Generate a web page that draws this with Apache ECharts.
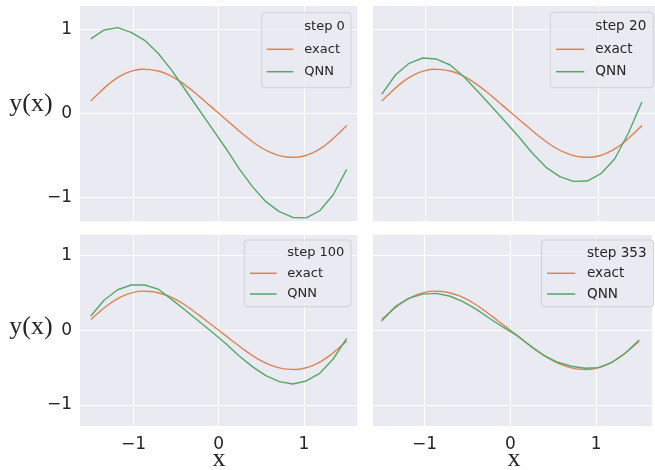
<!DOCTYPE html>
<html><head><meta charset="utf-8">
<script src="https://cdn.jsdelivr.net/npm/echarts@6/dist/echarts.min.js"></script>
<style>html,body{margin:0;padding:0;background:#fff}#c{width:655px;height:470px}</style>
</head><body><div id="c"></div>
<script>
// ---- data ----
const xExact = [-1.5,-1.4,-1.3,-1.2,-1.1,-1.0,-0.9,-0.8,-0.7,-0.6,-0.5,-0.4,-0.3,-0.2,-0.1,0,
  0.1,0.2,0.3,0.4,0.5,0.6,0.7,0.8,0.9,1.0,1.1,1.2,1.3,1.4,1.5];
const yExact = [0.145,0.245,0.338,0.415,0.472,0.508,0.524,0.520,0.500,0.463,0.410,0.342,0.262,0.176,0.088,0,
  -0.088,-0.176,-0.262,-0.342,-0.410,-0.463,-0.500,-0.520,-0.524,-0.508,-0.472,-0.415,-0.338,-0.245,-0.145];
const xQNN = [-1.5,-1.3421,-1.1842,-1.0263,-0.8684,-0.7105,-0.5526,-0.3947,-0.2368,-0.0789,
  0.0789,0.2368,0.3947,0.5526,0.7105,0.8684,1.0263,1.1842,1.3421,1.5];
const qnnStep0 = [0.885,0.992,1.02,0.964,0.869,0.714,0.514,0.283,0.051,-0.179,
  -0.41,-0.655,-0.873,-1.052,-1.17,-1.24,-1.245,-1.16,-0.97,-0.667];
const qnnStep20 = [0.226,0.456,0.595,0.658,0.646,0.575,0.436,0.263,0.083,-0.095,
  -0.28,-0.476,-0.643,-0.754,-0.81,-0.806,-0.719,-0.544,-0.238,0.138];
const qnnStep100 = [0.191,0.405,0.543,0.606,0.606,0.552,0.414,0.271,0.124,-0.023,
  -0.174,-0.34,-0.486,-0.607,-0.687,-0.718,-0.678,-0.575,-0.384,-0.107];
const qnnStep353 = [0.125,0.316,0.428,0.485,0.494,0.459,0.383,0.28,0.155,0.04,
  -0.072,-0.214,-0.34,-0.428,-0.481,-0.508,-0.5,-0.428,-0.303,-0.13];
const stepLabels = ['step 0','step 20','step 100','step 353'];
const seriesNames = ['exact','QNN'];
const tickLabels = {'-1':'\u22121','0':'0','1':'1'};
const xAxisName = 'x';
const yAxisName = 'y(x)';

// ---- layout / style ----
const ORANGE = '#dd8452', GREEN = '#55a868', BG = '#eaeaf2', TXT = '#262626';
const grids = [
  {left:79, top:5, width:278, height:216},
  {left:372, top:5, width:288, height:216},
  {left:79, top:234.3, width:278, height:192.4},
  {left:372, top:234.3, width:288, height:192.4}
];
const xRanges = [[-1.638,1.621],[-1.612,1.65],[-1.638,1.621],[-1.612,1.65]];
const yRanges = [[-1.282,1.289],[-1.282,1.289],[-1.29,1.285],[-1.29,1.285]];
const qnnAll = [qnnStep0, qnnStep20, qnnStep100, qnnStep353];

function fmt(v){
  const r = Math.round(v);
  if (Math.abs(v - r) > 1e-6) return '';
  return tickLabels[String(r)] !== undefined ? tickLabels[String(r)] : '';
}

const option = {
  animation:false,
  backgroundColor:'#fff',
  grid: grids.map(g => Object.assign({show:true, backgroundColor:BG, borderWidth:0, containLabel:false}, g)),
  xAxis: grids.map((g,i) => ({
    type:'value', gridIndex:i, min:xRanges[i][0], max:xRanges[i][1], splitNumber:3,
    axisLine:{show:false}, axisTick:{show:false},
    axisLabel:{show:i>=2, formatter:fmt, color:TXT, fontSize:17, fontFamily:'DejaVu Sans', margin:9,
      showMinLabel:true, showMaxLabel:true},
    splitLine:{show:true, lineStyle:{color:'#ffffff', width:1}}
  })),
  yAxis: grids.map((g,i) => ({
    type:'value', gridIndex:i, min:yRanges[i][0], max:yRanges[i][1], splitNumber:3,
    axisLine:{show:false}, axisTick:{show:false},
    axisLabel:{show:i%2===0, formatter:fmt, color:TXT, fontSize:17, fontFamily:'DejaVu Sans', margin:7},
    splitLine:{show:true, lineStyle:{color:'#ffffff', width:1}}
  })),
  series: []
};

for (let i=0;i<4;i++){
  option.series.push({
    name:seriesNames[0], type:'line', xAxisIndex:i, yAxisIndex:i, showSymbol:false, symbol:'none',
    smooth:0.3, lineStyle:{color:ORANGE, width:1.4}, itemStyle:{color:ORANGE}, z:2,
    data: xExact.map((x,k)=>[x, yExact[k]])
  });
  option.series.push({
    name:seriesNames[1], type:'line', xAxisIndex:i, yAxisIndex:i, showSymbol:false, symbol:'none',
    lineStyle:{color:GREEN, width:1.4}, itemStyle:{color:GREEN}, z:3,
    data: xQNN.map((x,k)=>[x, qnnAll[i][k]])
  });
}

// legends
const legends = [
  {box:[261.7,12.7,89.3,75], hx:[266.7,293.3], tx:304.3, ys:[26.7,49.3,71.7], fs:13},
  {box:[550.3,12.3,103,75.4], hx:[556,584.3], tx:595.3, ys:[26.5,49.3,71.7], fs:13.6},
  {box:[244.3,240,106.7,66.7], hx:[250,276.7], tx:287.3, ys:[252.7,273.3,294], fs:13},
  {box:[541.5,240,112,66.7], hx:[547,575.3], tx:587, ys:[253,273.3,294], fs:13.6}
];
const graphic = [];
legends.forEach((L,i) => {
  graphic.push({type:'rect', z:100, shape:{x:L.box[0], y:L.box[1], width:L.box[2], height:L.box[3], r:3},
    style:{fill:'rgba(234,234,242,0.8)', stroke:'#d0d0d4', lineWidth:1}});
  graphic.push({type:'line', z:101, shape:{x1:L.hx[0], y1:L.ys[1], x2:L.hx[1], y2:L.ys[1]}, style:{stroke:ORANGE, lineWidth:1.5}});
  graphic.push({type:'line', z:101, shape:{x1:L.hx[0], y1:L.ys[2], x2:L.hx[1], y2:L.ys[2]}, style:{stroke:GREEN, lineWidth:1.5}});
  const texts = [stepLabels[i], seriesNames[0], seriesNames[1]];
  texts.forEach((t,k) => graphic.push({type:'text', z:101,
    style:{text:t, x:L.tx, y:L.ys[k], fill:TXT, font:L.fs+'px "DejaVu Sans"', verticalAlign:'middle', align:'left'}}));
});
// axis names
const serif = '26px "Liberation Serif"';
graphic.push({type:'text', z:101, style:{text:yAxisName, x:31, y:104, fill:TXT, font:serif, align:'center', verticalAlign:'middle'}});
graphic.push({type:'text', z:101, style:{text:yAxisName, x:31, y:327, fill:TXT, font:serif, align:'center', verticalAlign:'middle'}});
graphic.push({type:'text', z:101, style:{text:xAxisName, x:219, y:459, fill:TXT, font:serif, align:'center', verticalAlign:'middle'}});
graphic.push({type:'text', z:101, style:{text:xAxisName, x:514, y:459, fill:TXT, font:serif, align:'center', verticalAlign:'middle'}});
option.graphic = graphic;

const chart = echarts.init(document.getElementById('c'), null, {renderer:'canvas'});
chart.setOption(option);
</script></body></html>
